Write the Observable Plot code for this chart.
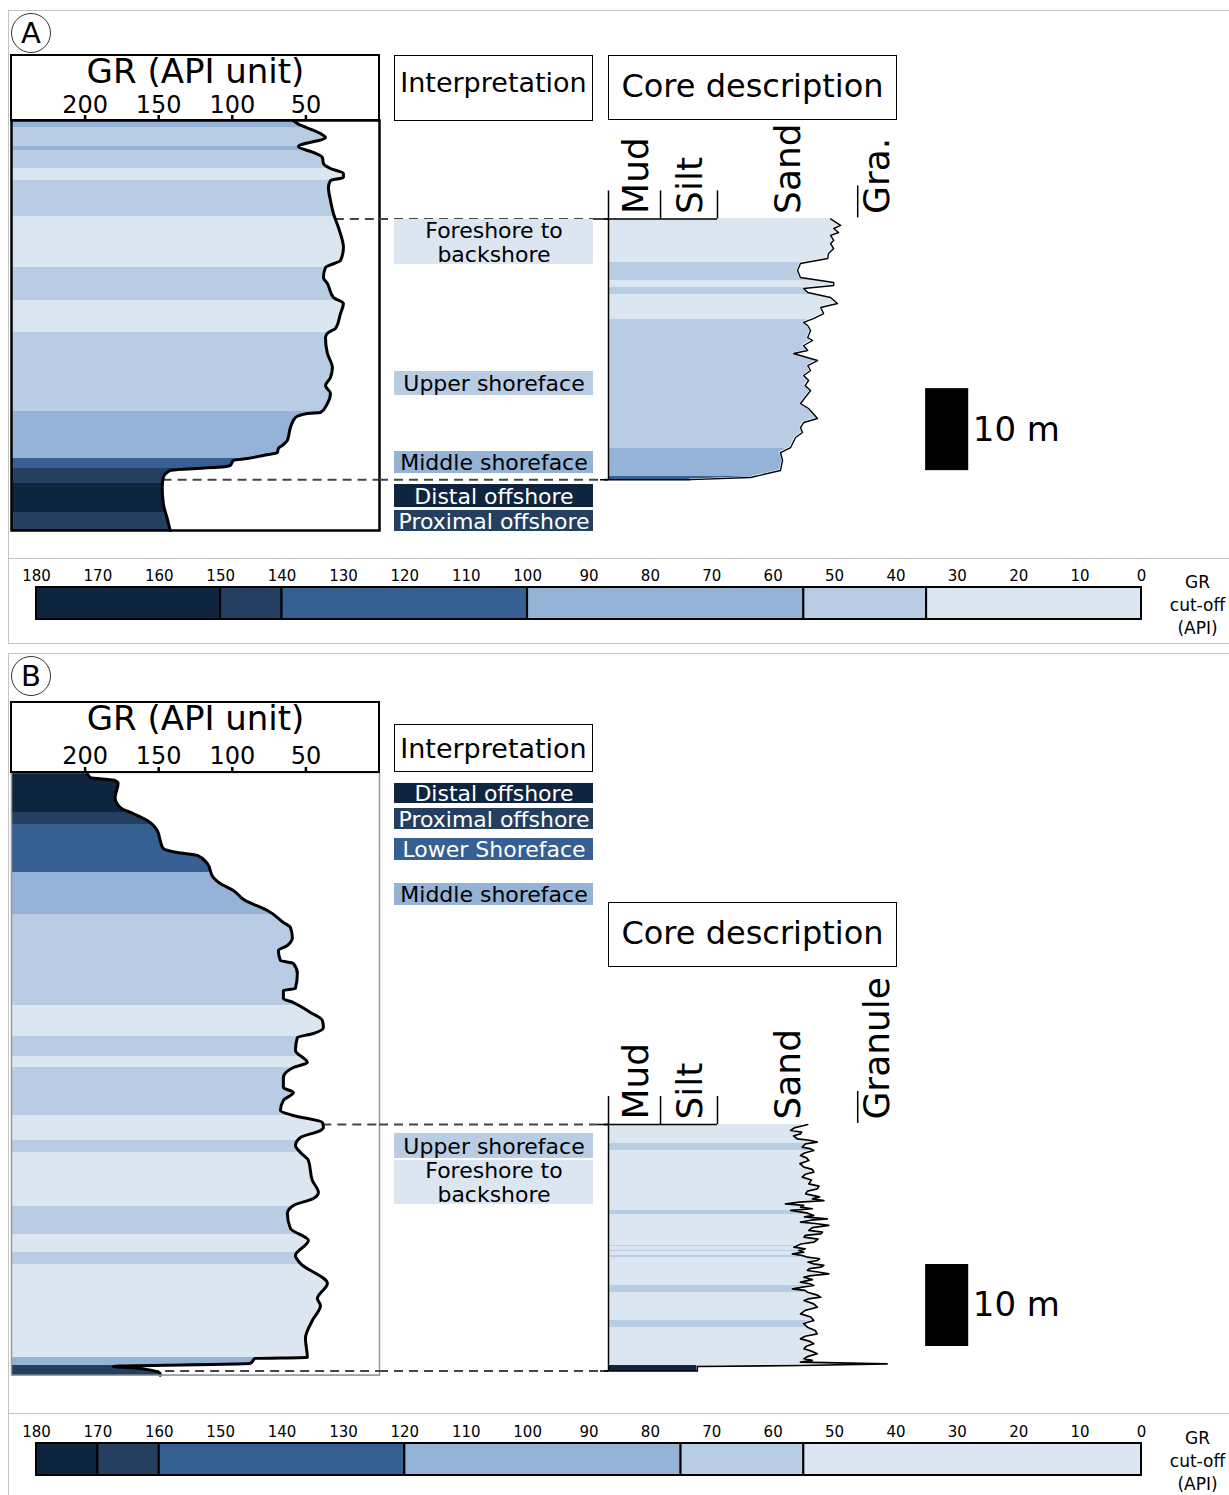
<!DOCTYPE html>
<html><head><meta charset="utf-8">
<script src="https://cdn.jsdelivr.net/npm/d3@7"></script>
<script src="https://cdn.jsdelivr.net/npm/@observablehq/plot@0.6"></script>
<style>
body{margin:0;background:#fff;font-family:"DejaVu Sans",Verdana,sans-serif;}
#root{position:relative;width:1229px;height:1495px;overflow:hidden;background:#fff;}
.box{position:absolute;box-sizing:border-box;border:1.5px solid #000;display:flex;align-items:center;justify-content:center;white-space:nowrap;color:#000;}
.panel{position:absolute;box-sizing:border-box;border:1px solid #c4c4c4;}
.hline{position:absolute;height:0;border-top:1px solid #c4c4c4;}
.circ{position:absolute;box-sizing:border-box;width:40px;height:40px;border:1.5px solid #333;border-radius:50%;display:flex;align-items:center;justify-content:center;font-size:29px;line-height:1;}
</style></head><body><div id="root"></div>
<script>
// ---------- data ----------
const faciesCodes = ["DO","PO","LS","MS","US","FB"];
const faciesColors = ["#0f243e","#243f60","#366092","#95b3d7","#b8cce4","#dce6f1"];
const darkFacies = ["DO","PO","LS"];

const grTicks = [200,150,100,50];
const cutoffTicks = [180,170,160,150,140,130,120,110,100,90,80,70,60,50,40,30,20,10,0];
const cutoffsA = [180,150,140,100,55,35,0];
const cutoffsB = [180,170,160,120,75,55,0];

const grainEdges = [0,18,37.7];
const granuleEdge = 86.2;
const grainLabelPos = [9.7,28.4,62.3,93];
const grainLabelsA = ["Mud","Silt","Sand","Gra."];
const grainLabelsB = ["Mud","Silt","Sand","Granule"];

// Panel A (depth m, value)
const depthA = 50;
const grCurveA = [[0,58.5],[0.37,55.8],[1.59,40.1],[2.07,36.7],[3.17,55.1],[3.9,44.9],[4.51,38.8],[5.24,38.1],[5.85,33.3],[6.46,24.5],[6.95,24.5],[7.32,33.3],[8.17,34.7],[9.76,33.3],[11.34,31.3],[13.05,27.9],[15.49,24.5],[17.07,26.5],[17.93,36.7],[19.15,38.1],[19.88,35.4],[21.59,31.3],[22.32,24.5],[23.54,26.5],[25.37,29.9],[25.85,34.7],[26.46,36.7],[28.41,35.4],[30.12,32.0],[31.34,33.3],[32.32,36.7],[33.29,33.3],[34.51,35.4],[35.61,40.1],[35.73,49.0],[36.22,57.1],[37.44,60.5],[39.02,62.6],[39.63,66.0],[40.0,68.7],[40.49,69.4],[40.85,78.9],[41.22,89.8],[41.46,99.3],[42.07,101.4],[42.3,110.2],[42.5,130.6],[42.68,142.2],[43.54,146.9],[44.76,147.6],[46.71,146.9],[48.54,144.2],[50.0,142.2]];
const grBandsA = [[0,0.85,"MS"],[0.85,3.17,"US"],[3.17,3.66,"MS"],[3.66,5.85,"US"],[5.85,7.32,"FB"],[7.32,11.71,"US"],[11.71,17.93,"FB"],[17.93,21.95,"US"],[21.95,25.85,"FB"],[25.85,35.45,"US"],[35.45,41.18,"MS"],[41.18,42.4,"LS"],[42.4,44.27,"PO"],[44.27,47.8,"DO"],[47.8,50,"PO"]];
const connectorsA = [12.0,43.8];
const interpLabelsA = [[12.07,17.56,"FB","Foreshore to\nbackshore"],[30.61,33.54,"US","Upper shoreface"],[40.37,43.05,"MS","Middle shoreface"],[44.39,47.2,"DO","Distal offshore"],[47.56,50.12,"PO","Proximal offshore"]];
const coreCurveA = [[12.0,76.8],[12.8,80.3],[13.17,77.9],[13.66,79.6],[14.02,76.8],[14.63,77.9],[15.0,76.8],[15.61,77.9],[16.22,76.1],[16.83,75.8],[17.44,66.4],[18.29,65.4],[19.15,66.4],[19.76,77.9],[20.12,77.9],[20.49,67.5],[20.98,68.9],[21.59,76.8],[22.32,79.2],[22.8,73.4],[23.54,74.4],[24.15,70.9],[24.63,67.5],[25.0,68.9],[25.61,69.9],[26.46,68.9],[26.83,70.6],[27.44,67.5],[28.05,68.9],[28.41,64.0],[29.27,72.3],[29.88,68.9],[30.49,69.9],[31.1,67.5],[31.71,69.2],[32.32,68.0],[32.93,69.9],[34.51,66.4],[35.12,69.2],[36.34,72.3],[36.83,67.5],[37.44,66.4],[38.05,67.1],[38.66,64.7],[39.88,63.0],[40.49,59.5],[41.46,60.2],[42.68,59.5],[43.54,49.1],[43.8,28.4]];
const coreBandsA = [[12.0,17.32,"FB"],[17.32,19.51,"US"],[19.51,20.37,"FB"],[20.37,21.22,"US"],[21.22,24.27,"FB"],[24.27,40.0,"US"],[40.0,43.41,"MS"],[43.41,43.8,"LS"]];
const scaleBarTopA = 32.7;

// Panel B
const depthB = 73.5;
const grCurveB = [[0,198.6],[0.61,196.6],[0.98,179.6],[1.34,177.6],[3.05,179.6],[4.27,176.2],[5.0,167.3],[5.85,157.8],[7.07,151.0],[8.29,149.0],[9.27,146.9],[9.76,137.4],[10.12,123.8],[11.1,117.0],[12.8,112.9],[13.54,108.2],[14.39,99.3],[15.61,91.2],[16.59,78.9],[16.83,76.2],[18.29,65.3],[18.9,60.5],[20.12,59.2],[21.1,62.6],[21.71,68.7],[22.93,67.3],[23.29,58.5],[24.51,55.8],[26.34,57.1],[26.59,65.3],[27.56,65.3],[28.05,58.5],[29.27,46.9],[30.24,38.8],[31.1,38.1],[31.83,44.9],[32.32,55.8],[33.9,57.1],[35.37,49.0],[35.98,58.5],[37.2,65.3],[38.41,65.3],[39.02,58.5],[40.0,65.3],[41.22,67.3],[41.83,58.5],[42.68,38.8],[43.29,38.1],[43.66,40.1],[44.51,53.7],[45.49,57.1],[46.34,53.7],[47.32,48.3],[49.76,45.6],[51.22,41.5],[51.95,44.9],[52.8,58.5],[53.78,62.6],[55.61,60.5],[57.07,48.3],[58.9,57.1],[59.88,53.7],[62.32,35.4],[64.15,42.2],[65.0,40.1],[66.83,45.6],[69.02,50.3],[71.34,49.0],[71.46,84.4],[72.07,87.8],[72.44,181.0],[72.68,162.6],[73.29,149.0],[73.5,149.0]];
const grBandsB = [[0,4.84,"DO"],[4.84,6.34,"PO"],[6.34,12.16,"LS"],[12.16,17.32,"MS"],[17.32,28.41,"US"],[28.41,32.2,"FB"],[32.2,34.63,"US"],[34.63,35.98,"FB"],[35.98,41.83,"US"],[41.83,44.88,"FB"],[44.88,46.34,"US"],[46.34,52.89,"FB"],[52.89,56.34,"US"],[56.34,58.54,"FB"],[58.54,60.0,"US"],[60.0,71.34,"FB"],[71.34,72.32,"MS"],[72.32,73.5,"PO"]];
const connectorsB = [42.93,73.0];
const interpLabelsB = [[1.34,3.78,"DO","Distal offshore"],[4.39,6.95,"PO","Proximal offshore"],[8.05,10.73,"LS","Lower Shoreface"],[13.54,16.22,"MS","Middle shoreface"],[44.02,47.07,"US","Upper shoreface"],[47.32,52.68,"FB","Foreshore to\nbackshore"]];
const coreCurveB = [[42.93,68.9],[43.05,67.6],[43.3,64.5],[43.66,63.0],[43.85,66.8],[44.07,66.4],[44.3,64.0],[44.67,65.3],[44.85,69.5],[45.08,72.2],[45.3,68.0],[45.69,67.0],[45.9,70.0],[46.1,71.0],[46.4,67.8],[46.71,66.4],[47.0,68.5],[47.32,69.3],[47.7,66.2],[48.13,67.6],[48.4,70.5],[48.74,71.0],[49.0,68.0],[49.35,67.0],[49.7,70.2],[50.16,69.3],[50.45,72.8],[50.77,72.2],[51.05,68.8],[51.38,68.2],[51.75,73.0],[52.0,70.5],[52.2,74.5],[52.4,66.0],[52.6,61.2],[52.8,67.5],[53.01,66.4],[53.2,70.5],[53.41,63.0],[53.7,68.5],[54.02,71.0],[54.2,67.8],[54.43,75.7],[54.6,70.0],[54.84,66.4],[55.0,71.5],[55.24,76.2],[55.5,70.5],[55.85,69.3],[56.05,74.0],[56.26,73.4],[56.45,68.0],[56.67,67.6],[56.9,72.5],[57.28,71.0],[57.5,66.5],[57.89,64.1],[58.1,68.0],[58.29,65.8],[58.5,67.5],[58.7,63.6],[58.9,67.0],[59.11,68.8],[59.3,73.0],[59.51,72.2],[59.7,69.0],[59.92,71.0],[60.1,74.5],[60.33,73.4],[60.5,69.5],[60.73,68.8],[60.95,73.0],[61.14,76.2],[61.35,70.0],[61.55,67.6],[61.85,70.5],[62.16,66.4],[62.35,69.5],[62.56,71.0],[62.75,67.0],[62.97,63.6],[63.15,68.0],[63.38,68.8],[63.7,72.0],[63.99,73.4],[64.2,69.0],[64.39,67.6],[64.8,71.0],[65.21,72.2],[65.6,68.0],[66.02,66.4],[66.4,70.0],[66.83,71.0],[67.2,67.5],[67.65,68.8],[68.05,71.5],[68.46,72.2],[68.75,68.0],[69.07,66.4],[69.35,69.5],[69.67,71.0],[69.95,68.5],[70.28,67.6],[70.6,70.5],[70.89,72.2],[71.2,69.0],[71.5,67.6],[71.7,70.5],[71.91,66.4],[72.11,96.4],[72.32,66.4],[72.44,30.7],[72.85,30.7],[73.0,30.7]];
const coreBandsB = [[42.93,45.28,"FB"],[45.28,46.1,"US"],[46.1,53.41,"FB"],[53.41,53.9,"US"],[53.9,57.68,"FB"],[57.68,57.84,"US"],[57.84,58.29,"FB"],[58.29,58.45,"US"],[58.45,58.9,"FB"],[58.9,59.11,"US"],[59.11,62.56,"FB"],[62.56,63.38,"US"],[63.38,66.83,"FB"],[66.83,67.72,"US"],[67.72,72.32,"FB"],[72.32,73.0,"DO"]];
const scaleBarTopB = 60.0;

// ---------- layout ----------
const PX_PER_M = 8.2;
const FONT = "'DejaVu Sans', Verdana, sans-serif";
const STYLE = `overflow:visible;background:transparent;font-family:${FONT};`;
const colorScale = {type: "ordinal", domain: faciesCodes, range: faciesColors};
const root = document.getElementById("root");

function place(node, left, top) {
  node.style.position = "absolute";
  node.style.left = left + "px";
  node.style.top = top + "px";
  root.appendChild(node);
}
function addDiv(cls, left, top, w, h, text, css) {
  const d = document.createElement("div");
  d.className = cls;
  d.style.left = left + "px"; d.style.top = top + "px";
  if (w != null) d.style.width = w + "px";
  if (h != null) d.style.height = h + "px";
  if (text) d.textContent = text;
  if (css) d.style.cssText += css;
  root.appendChild(d);
  return d;
}
function valueAt(curve, d) {
  const i = d3.bisector(p => p[0]).left(curve, d);
  if (i <= 0) return curve[0][1];
  if (i >= curve.length) return curve[curve.length - 1][1];
  const [d0, v0] = curve[i - 1], [d1, v1] = curve[i];
  return v0 + (v1 - v0) * (d - d0) / (d1 - d0);
}

function grLog({curve, bands, connectors, depth, mTop, frame}) {
  return Plot.plot({
    width: 368, height: mTop + depth * PX_PER_M,
    marginTop: mTop, marginRight: 0, marginBottom: 0, marginLeft: 0,
    style: STYLE,
    x: {domain: [250, 0]},
    y: {domain: [0, depth], reverse: true, axis: null},
    color: colorScale,
    marks: [
      Plot.rect(bands, {x1: 250, x2: 0, y1: d => d[0], y2: d => d[1], fill: d => d[2], shapeRendering: "crispEdges"}),
      Plot.areaX(curve, {x1: d => d[1], x2: 0, y: d => d[0], fill: "#fff", curve: "monotone-y"}),
      Plot.ruleY(connectors, {x1: d => valueAt(curve, d), x2: 0, stroke: "#444", strokeWidth: 2, strokeDasharray: "9,6"}),
      Plot.lineX(curve, {x: d => d[1], y: d => d[0], curve: "monotone-y", stroke: "#000", strokeWidth: 3}),
      Plot.frame(frame),
      Plot.axisX({anchor: "top", ticks: grTicks, tickSize: 6, tickPadding: 2, fontSize: 24, strokeWidth: 2.5, label: null}),
      Plot.text(["GR (API unit)"], {text: d => d, frameAnchor: "top", lineAnchor: "middle", dy: -mTop + 17, fontSize: 34})
    ]
  });
}

function interpColumn({labels, connectors, depth, mTop}) {
  const txt = {x: 0.5, y: d => (d[0] + d[1]) / 2, text: d => d[3], fontSize: 22, lineHeight: 1.09};
  return Plot.plot({
    width: 229, height: mTop + depth * PX_PER_M,
    marginTop: mTop, marginRight: 0, marginBottom: 0, marginLeft: 0,
    style: STYLE,
    x: {domain: [0, 1], axis: null},
    y: {domain: [0, depth], reverse: true, axis: null},
    color: colorScale,
    marks: [
      Plot.ruleY(connectors, {stroke: "#444", strokeWidth: 2, strokeDasharray: "9,6"}),
      Plot.rect(labels, {x1: 0, x2: 1, y1: d => d[0], y2: d => d[1], fill: d => d[2], insetLeft: 15, insetRight: 15}),
      Plot.text(labels.filter(d => darkFacies.includes(d[2])), {...txt, fill: "#fff"}),
      Plot.text(labels.filter(d => !darkFacies.includes(d[2])), {...txt, fill: "#000"})
    ]
  });
}

function coreColumn({curve, bands, depth, mTop, labels, barTop, lineWidth}) {
  const top = curve[0][0], bottom = curve[curve.length - 1][0];
  const line = {stroke: "#000", strokeWidth: 1.5};
  return Plot.plot({
    width: 471, height: mTop + depth * PX_PER_M,
    marginTop: mTop, marginRight: 10, marginBottom: 0, marginLeft: 10,
    style: STYLE,
    x: {domain: [0, 156], axis: null},
    y: {domain: [0, depth], reverse: true, axis: null},
    color: colorScale,
    marks: [
      Plot.rect(bands, {x1: 0, x2: 100, y1: d => d[0], y2: d => d[1], fill: d => d[2], shapeRendering: "crispEdges"}),
      Plot.areaX(curve, {x1: d => d[1], x2: 103, y: d => d[0], fill: "#fff", stroke: "#fff", strokeWidth: 1.5}),
      Plot.lineX(curve, {x: d => d[1], y: d => d[0], stroke: "#000", strokeWidth: lineWidth}),
      Plot.ruleY([bottom], {x1: 0, x2: curve[curve.length - 1][1], insetLeft: -8, ...line}),
      Plot.ruleY([top], {x1: 0, x2: grainEdges[2], insetLeft: -10, ...line}),
      Plot.ruleX(grainEdges, {y1: top, y2: d => d === 0 ? bottom : top, insetTop: -28, ...line}),
      Plot.ruleX([granuleEdge], {y1: top, y2: top, insetTop: -33, insetBottom: 1, ...line}),
      Plot.text(labels, {x: (d, i) => grainLabelPos[i], y: top, dy: -5, text: d => d, rotate: -90, textAnchor: "start", fontSize: 36}),
      Plot.rect([barTop], {x1: 109.7, x2: 124.6, y1: d => d, y2: d => d + 10, fill: "#000"}),
      Plot.text([barTop], {x: 126, y: d => d + 5, text: () => "10 m", textAnchor: "start", fontSize: 34})
    ]
  });
}

function cutoffBar(cuts) {
  const segs = faciesCodes.map((c, i) => ({c, x1: cuts[i], x2: cuts[i + 1]}));
  return Plot.plot({
    width: 1229, height: 82,
    marginLeft: 36, marginRight: 88, marginTop: 30, marginBottom: 20,
    style: STYLE,
    x: {domain: [180, 0]},
    color: colorScale,
    marks: [
      Plot.rect(segs, {x1: "x1", x2: "x2", fill: "c", stroke: "#000", strokeWidth: 2}),
      Plot.axisX({anchor: "top", ticks: cutoffTicks, tickSize: 0, tickPadding: 7, fontSize: 15, label: null}),
      Plot.text(["GR\ncut-off\n(API)"], {text: d => d, frameAnchor: "right", textAnchor: "middle", lineAnchor: "middle", dx: 56, fontSize: 17, lineHeight: 1.35})
    ]
  });
}

// ---------- panel frames ----------
addDiv("panel", 8, 10, 1230, 634);
addDiv("hline", 8, 558, 1221, null);
addDiv("panel", 8, 653, 1230, 850);
addDiv("hline", 8, 1413, 1221, null);
addDiv("circ", 11, 13, null, null, "A");
addDiv("circ", 11, 656, null, null, "B");

// ---------- panel A ----------
place(grLog({curve: grCurveA, bands: grBandsA, connectors: connectorsA, depth: depthA, mTop: 65, frame: {stroke: "#000", strokeWidth: 2.5}}), 11, 55);
place(interpColumn({labels: interpLabelsA, connectors: connectorsA, depth: depthA, mTop: 65}), 379, 55);
place(coreColumn({curve: coreCurveA, bands: coreBandsA, depth: depthA, mTop: 65, labels: grainLabelsA, barTop: scaleBarTopA, lineWidth: 1.4}), 598, 55);
place(cutoffBar(cutoffsA), 0, 557);
addDiv("box", 10, 54, 370, 67, null, "border-width:2.5px;");
addDiv("box", 394, 55, 199, 66, "Interpretation", "font-size:27px;padding-bottom:12px;");
addDiv("box", 608, 55, 289, 65, "Core description", "font-size:32px;padding-bottom:3px;");

// ---------- panel B ----------
place(grLog({curve: grCurveB, bands: grBandsB, connectors: connectorsB, depth: depthB, mTop: 70, frame: {stroke: "#999", strokeWidth: 1.5}}), 11, 702);
place(interpColumn({labels: interpLabelsB, connectors: connectorsB, depth: depthB, mTop: 70}), 379, 702);
place(coreColumn({curve: coreCurveB, bands: coreBandsB, depth: depthB, mTop: 70, labels: grainLabelsB, barTop: scaleBarTopB, lineWidth: 1.7}), 598, 702);
place(cutoffBar(cutoffsB), 0, 1413);
addDiv("box", 10, 701, 370, 72, null, "border-width:2px;");
addDiv("box", 394, 724, 199, 48, "Interpretation", "font-size:27px;");
addDiv("box", 608, 902, 289, 65, "Core description", "font-size:32px;padding-bottom:3px;");
</script></body></html>
